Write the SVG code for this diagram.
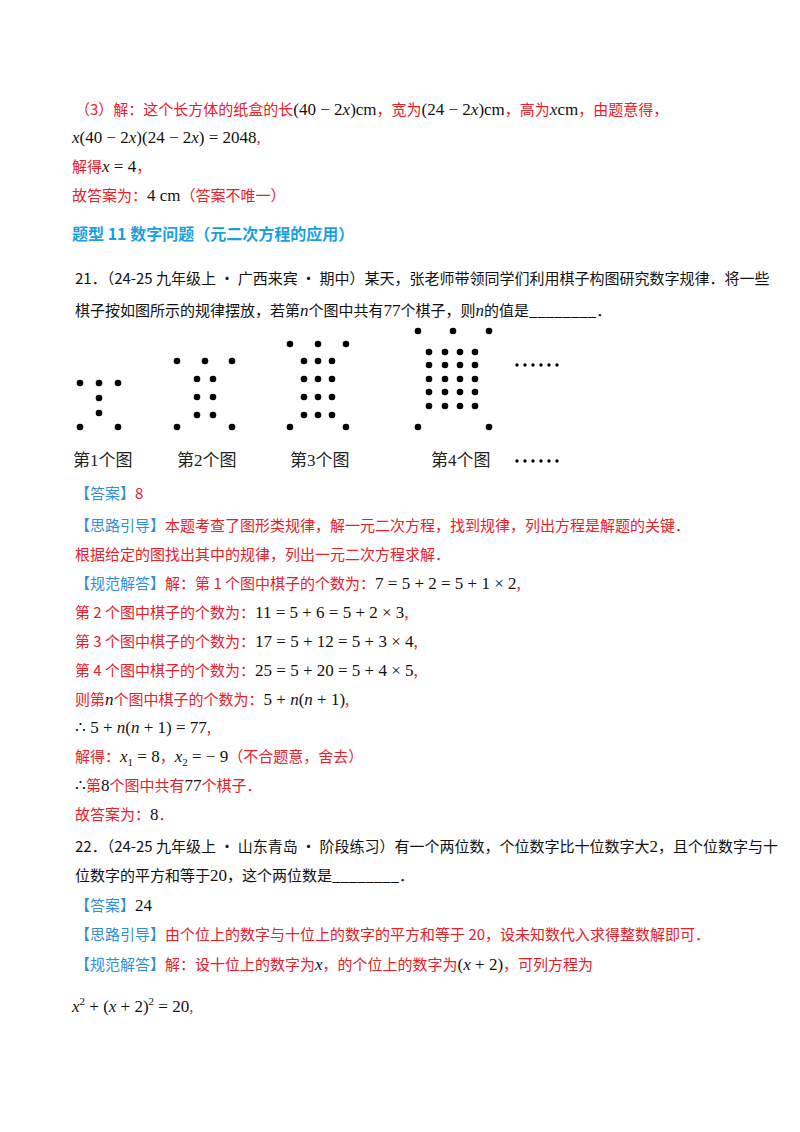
<svg xmlns="http://www.w3.org/2000/svg" width="800" height="1132" viewBox="0 0 800 1132">
<style>
text{font-family:"Noto Sans CJK SC","Liberation Serif",sans-serif;font-size:15px;fill:#111}
.r{fill:#e8202a}.b{fill:#2f8fd8}.h{fill:#1aa0e0;font-weight:bold;font-size:16px}
.m{font-family:"Liberation Serif",serif;font-size:17px;fill:#111}
.i{font-style:italic}
.lb{font-family:"Liberation Serif","Noto Sans CJK SC",serif;font-size:17px;fill:#222}
</style>
<rect width="800" height="1132" fill="#fff"/>
<g id="text">
<text x="75" y="115"><tspan class="r">（3）解：这个长方体的纸盒的长</tspan><tspan class="m">(40 − 2<tspan class="i">x</tspan>)cm</tspan><tspan class="r">，宽为</tspan><tspan class="m">(24 − 2<tspan class="i">x</tspan>)cm</tspan><tspan class="r">，高为</tspan><tspan class="m"><tspan class="i">x</tspan>cm</tspan><tspan class="r">，由题意得，</tspan></text>
<text x="72" y="143" class="m"><tspan class="i">x</tspan>(40 − 2<tspan class="i">x</tspan>)(24 − 2<tspan class="i">x</tspan>) = 2048<tspan class="r">,</tspan></text>
<text x="72" y="172"><tspan class="r">解得</tspan><tspan class="m"><tspan class="i">x</tspan> = 4</tspan><tspan class="r">，</tspan></text>
<text x="72" y="201"><tspan class="r">故答案为：</tspan><tspan class="m">4 cm</tspan><tspan class="r">（答案不唯一）</tspan></text>
<text x="72" y="240" class="h">题型 11  数字问题（元二次方程的应用）</text>
<text x="75" y="284">21．（24-25 九年级上 • 广西来宾 • 期中）某天，张老师带领同学们利用棋子构图研究数字规律．将一些</text>
<text x="75" y="316">棋子按如图所示的规律摆放，若第<tspan class="m i">n</tspan>个图中共有<tspan class="m">77</tspan>个棋子，则<tspan class="m i">n</tspan>的值是________．</text>
<text x="75" y="499"><tspan class="b">【答案】</tspan><tspan class="r">8</tspan></text>
<text x="75" y="531"><tspan class="b">【思路引导】</tspan><tspan class="r">本题考查了图形类规律，解一元二次方程，找到规律，列出方程是解题的关键．</tspan></text>
<text x="75" y="560" class="r">根据给定的图找出其中的规律，列出一元二次方程求解．</text>
<text x="75" y="589"><tspan class="b">【规范解答】</tspan><tspan class="r">解：第 1 个图中棋子的个数为：</tspan><tspan class="m">7 = 5 + 2 = 5 + 1 × 2</tspan><tspan class="r">,</tspan></text>
<text x="75" y="618"><tspan class="r">第 2 个图中棋子的个数为：</tspan><tspan class="m">11 = 5 + 6 = 5 + 2 × 3</tspan><tspan class="r">,</tspan></text>
<text x="75" y="647"><tspan class="r">第 3 个图中棋子的个数为：</tspan><tspan class="m">17 = 5 + 12 = 5 + 3 × 4</tspan><tspan class="r">,</tspan></text>
<text x="75" y="676"><tspan class="r">第 4 个图中棋子的个数为：</tspan><tspan class="m">25 = 5 + 20 = 5 + 4 × 5</tspan><tspan class="r">,</tspan></text>
<text x="75" y="705"><tspan class="r">则第</tspan><tspan class="m i">n</tspan><tspan class="r">个图中棋子的个数为：</tspan><tspan class="m">5 + <tspan class="i">n</tspan>(<tspan class="i">n</tspan> + 1)</tspan><tspan class="r">,</tspan></text>
<text x="75" y="733"><tspan class="m">∴ 5 + <tspan class="i">n</tspan>(<tspan class="i">n</tspan> + 1) = 77</tspan><tspan class="r">,</tspan></text>
<text x="75" y="762"><tspan class="r">解得：</tspan><tspan class="m"><tspan class="i">x</tspan><tspan font-size="11" dy="4">1</tspan><tspan dy="-4"> = 8</tspan></tspan><tspan class="r">，</tspan><tspan class="m"><tspan class="i">x</tspan><tspan font-size="11" dy="4">2</tspan><tspan dy="-4"> = − 9</tspan></tspan><tspan class="r">（不合题意，舍去）</tspan></text>
<text x="75" y="791"><tspan class="m">∴</tspan><tspan class="r">第</tspan><tspan class="m r">8</tspan><tspan class="r">个图中共有</tspan><tspan class="m r">77</tspan><tspan class="r">个棋子．</tspan></text>
<text x="75" y="820"><tspan class="r">故答案为：</tspan><tspan class="m">8</tspan><tspan class="r">．</tspan></text>
<text x="75" y="852">22．（24-25 九年级上 • 山东青岛 • 阶段练习）有一个两位数，个位数字比十位数字大<tspan class="m">2</tspan>，且个位数字与十</text>
<text x="75" y="881">位数字的平方和等于<tspan class="m">20</tspan>，这个两位数是________．</text>
<text x="75" y="911"><tspan class="b">【答案】</tspan><tspan class="m">24</tspan></text>
<text x="75" y="940"><tspan class="b">【思路引导】</tspan><tspan class="r">由个位上的数字与十位上的数字的平方和等于 20，设未知数代入求得整数解即可．</tspan></text>
<text x="75" y="970"><tspan class="b">【规范解答】</tspan><tspan class="r">解：设十位上的数字为</tspan><tspan class="m i">x</tspan><tspan class="r">，的个位上的数字为</tspan><tspan class="m">(<tspan class="i">x</tspan> + 2)</tspan><tspan class="r">，可列方程为</tspan></text>
<text x="72" y="1012" class="m"><tspan class="i">x</tspan><tspan font-size="11" dy="-7">2</tspan><tspan dy="7"> + (</tspan><tspan class="i">x</tspan> + 2)<tspan font-size="11" dy="-7">2</tspan><tspan dy="7"> = 20</tspan><tspan class="r">,</tspan></text>
</g>
<g id="figures" fill="#000">
<g id="fig1">
<circle cx="80" cy="383" r="3.3"/><circle cx="99" cy="383" r="3.3"/><circle cx="118" cy="383" r="3.3"/>
<circle cx="99" cy="398" r="3.3"/><circle cx="99" cy="413" r="3.3"/>
<circle cx="80" cy="427" r="3.3"/><circle cx="118" cy="427" r="3.3"/>
</g>
<g id="fig2">
<circle cx="177" cy="361" r="3.3"/><circle cx="205" cy="361" r="3.3"/><circle cx="232" cy="361" r="3.3"/>
<circle cx="197" cy="379" r="3.3"/><circle cx="213" cy="379" r="3.3"/>
<circle cx="197" cy="397" r="3.3"/><circle cx="213" cy="397" r="3.3"/>
<circle cx="197" cy="415" r="3.3"/><circle cx="213" cy="415" r="3.3"/>
<circle cx="177" cy="427" r="3.3"/><circle cx="232" cy="427" r="3.3"/>
</g>
<g id="fig3">
<circle cx="290" cy="344" r="3.3"/><circle cx="318" cy="344" r="3.3"/><circle cx="346" cy="344" r="3.3"/>
<circle cx="304" cy="361" r="3.3"/><circle cx="318" cy="361" r="3.3"/><circle cx="332" cy="361" r="3.3"/>
<circle cx="304" cy="379" r="3.3"/><circle cx="318" cy="379" r="3.3"/><circle cx="332" cy="379" r="3.3"/>
<circle cx="304" cy="397" r="3.3"/><circle cx="318" cy="397" r="3.3"/><circle cx="332" cy="397" r="3.3"/>
<circle cx="304" cy="415" r="3.3"/><circle cx="318" cy="415" r="3.3"/><circle cx="332" cy="415" r="3.3"/>
<circle cx="290" cy="427" r="3.3"/><circle cx="346" cy="427" r="3.3"/>
</g>
<g id="fig4">
<circle cx="418" cy="331" r="3.3"/><circle cx="453" cy="331" r="3.3"/><circle cx="489" cy="331" r="3.3"/>
<circle cx="429" cy="352" r="3.3"/><circle cx="445" cy="352" r="3.3"/><circle cx="460" cy="352" r="3.3"/><circle cx="475" cy="352" r="3.3"/>
<circle cx="429" cy="365" r="3.3"/><circle cx="445" cy="365" r="3.3"/><circle cx="460" cy="365" r="3.3"/><circle cx="475" cy="365" r="3.3"/>
<circle cx="429" cy="379" r="3.3"/><circle cx="445" cy="379" r="3.3"/><circle cx="460" cy="379" r="3.3"/><circle cx="475" cy="379" r="3.3"/>
<circle cx="429" cy="392" r="3.3"/><circle cx="445" cy="392" r="3.3"/><circle cx="460" cy="392" r="3.3"/><circle cx="475" cy="392" r="3.3"/>
<circle cx="429" cy="406" r="3.3"/><circle cx="445" cy="406" r="3.3"/><circle cx="460" cy="406" r="3.3"/><circle cx="475" cy="406" r="3.3"/>
<circle cx="418" cy="427" r="3.3"/><circle cx="489" cy="427" r="3.3"/>
</g>
<g id="ellipsis">
<circle cx="517" cy="365" r="1.7"/><circle cx="525" cy="365" r="1.7"/><circle cx="533" cy="365" r="1.7"/><circle cx="541" cy="365" r="1.7"/><circle cx="549" cy="365" r="1.7"/><circle cx="557" cy="365" r="1.7"/>
<circle cx="517" cy="461" r="1.7"/><circle cx="525" cy="461" r="1.7"/><circle cx="533" cy="461" r="1.7"/><circle cx="541" cy="461" r="1.7"/><circle cx="549" cy="461" r="1.7"/><circle cx="557" cy="461" r="1.7"/>
</g>
<text class="lb" x="73" y="466">第1个图</text>
<text class="lb" x="177" y="466">第2个图</text>
<text class="lb" x="290" y="466">第3个图</text>
<text class="lb" x="431" y="466">第4个图</text>
</g>
</svg>
